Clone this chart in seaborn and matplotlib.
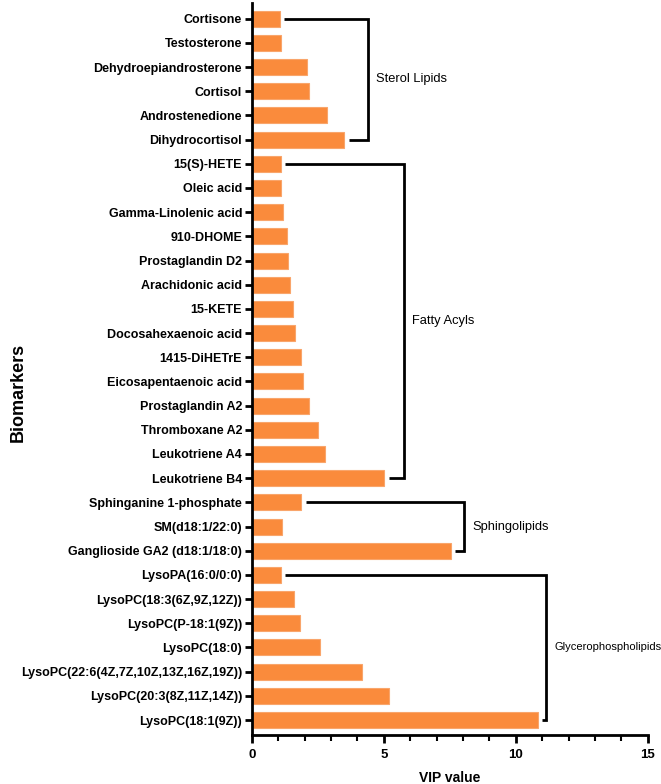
import numpy as np
import pandas as pd
import matplotlib
matplotlib.use("Agg")
import matplotlib.pyplot as plt
from matplotlib.ticker import MultipleLocator
import seaborn as sns

# Biomarkers, top to bottom
biomarkers = [
    "Cortisone", "Testosterone", "Dehydroepiandrosterone", "Cortisol",
    "Androstenedione", "Dihydrocortisol",
    "15(S)-HETE", "Oleic acid", "Gamma-Linolenic acid", "910-DHOME",
    "Prostaglandin D2", "Arachidonic acid", "15-KETE", "Docosahexaenoic acid",
    "1415-DiHETrE", "Eicosapentaenoic acid", "Prostaglandin A2",
    "Thromboxane A2", "Leukotriene A4", "Leukotriene B4",
    "Sphinganine 1-phosphate", "SM(d18:1/22:0)", "Ganglioside GA2 (d18:1/18:0)",
    "LysoPA(16:0/0:0)", "LysoPC(18:3(6Z,9Z,12Z))", "LysoPC(P-18:1(9Z))",
    "LysoPC(18:0)", "LysoPC(22:6(4Z,7Z,10Z,13Z,16Z,19Z))",
    "LysoPC(20:3(8Z,11Z,14Z))", "LysoPC(18:1(9Z))",
]
vip_values = [
    1.06, 1.10, 2.10, 2.15, 2.85, 3.50,
    1.10, 1.10, 1.19, 1.33, 1.36, 1.44, 1.57, 1.65, 1.87, 1.93, 2.17,
    2.51, 2.78, 5.01,
    1.87, 1.14, 7.54,
    1.10, 1.59, 1.82, 2.58, 4.19, 5.20, 10.84,
]

# lipid classes: name, first row, last row, bracket x
group_names = ["Sterol Lipids", "Fatty Acyls", "Sphingolipids", "Glycerophospholipids"]
group_first = [0, 6, 20, 23]
group_last = [5, 19, 22, 29]
group_bracket_x = [4.4, 5.75, 8.05, 11.15]

df = pd.DataFrame({"Biomarker": biomarkers, "VIP": vip_values})

sns.set_style("ticks", {"axes.edgecolor": "black", "xtick.color": "black",
                        "ytick.color": "black", "text.color": "black",
                        "axes.labelcolor": "black"})
plt.rcParams["font.family"] = ["Liberation Sans", "DejaVu Sans"]

fig = plt.figure(figsize=(6.61, 7.84), dpi=100)
ax = fig.add_axes([0.381, 0.0625, 0.599, 0.934])

sns.barplot(data=df, x="VIP", y="Biomarker", orient="h", color="#FA8B3C",
            saturation=1, width=0.66, edgecolor="#F9A56B", linewidth=0.8, ax=ax)

for name, i0, i1, xv in zip(group_names, group_first, group_last, group_bracket_x):
    gap = 0.17
    ax.plot([vip_values[i0] + gap, xv, xv, vip_values[i1] + gap],
            [i0, i0, i1, i1], color="black", lw=2, solid_capstyle="butt",
            solid_joinstyle="miter", clip_on=False)
    fs = 8.0 if name == "Glycerophospholipids" else 9.3
    ax.text(xv + 0.3, (i0 + i1) / 2, name, va="center", ha="left",
            fontsize=fs, color="black")

ax.set_xlim(0, 15)
ax.set_ylim(29.62, -0.66)
ax.xaxis.set_major_locator(MultipleLocator(5))
ax.xaxis.set_minor_locator(MultipleLocator(1))

sns.despine(ax=ax)
for side in ["left", "bottom"]:
    ax.spines[side].set_linewidth(2)
ax.tick_params(axis="y", which="major", length=5, width=2, labelsize=9, pad=2,
               colors="black")
ax.tick_params(axis="x", which="major", length=6, width=2, labelsize=9.5, pad=4,
               colors="black")
ax.tick_params(axis="x", which="minor", length=4, width=1.5, colors="black")
for lbl in ax.get_yticklabels() + ax.get_xticklabels():
    lbl.set_fontweight("bold")

ax.set_xlabel("VIP value", fontsize=10, fontweight="bold", labelpad=7,
              color="black")
ax.set_ylabel("")
fig.text(0.027, 0.5, "Biomarkers", rotation=90, va="center", ha="center",
         fontsize=13, fontweight="bold", color="black")

fig.savefig("out.png", dpi=100)
